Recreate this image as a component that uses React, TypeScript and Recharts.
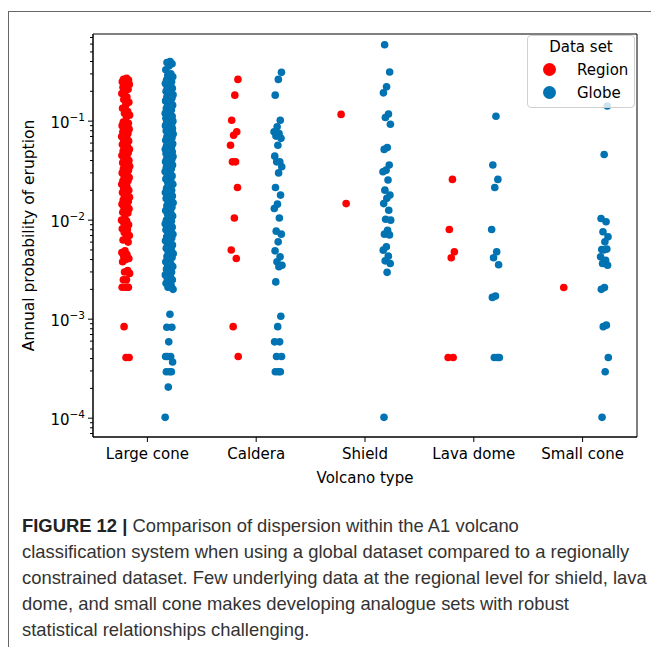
import React from "react";
import { ScatterChart, Scatter, XAxis, YAxis, ReferenceArea } from "recharts";

const categories = ["Large cone", "Caldera", "Shield", "Lava dome", "Small cone"];
const majorTicks = [1e-4, 1e-3, 1e-2, 1e-1];
const legendItems = ["Region", "Globe"];

const regionLargeCone = [
  0.27, 0.265, 0.26, 0.255, 0.25, 0.245, 0.24, 0.235, 0.23, 0.22, 0.21, 0.2, 0.19,
  0.175, 0.165, 0.155, 0.145, 0.135, 0.125, 0.12, 0.115, 0.11,
  0.098, 0.095, 0.092, 0.09, 0.088, 0.085, 0.083, 0.08, 0.078, 0.075, 0.072, 0.07, 0.068,
  0.065, 0.063, 0.06, 0.058, 0.056, 0.054, 0.052, 0.05, 0.05, 0.048, 0.046, 0.045, 0.043,
  0.042, 0.04, 0.04, 0.038, 0.037, 0.036, 0.035, 0.034, 0.033, 0.032, 0.031, 0.03, 0.029,
  0.028, 0.027, 0.026, 0.025, 0.025, 0.024, 0.023, 0.022, 0.021, 0.02, 0.02, 0.019, 0.018,
  0.0175, 0.017, 0.0165, 0.016, 0.0155, 0.015, 0.0145, 0.014, 0.0135, 0.013, 0.0125, 0.012,
  0.0118, 0.0105, 0.01, 0.0098, 0.0095, 0.009, 0.0085, 0.0082, 0.008, 0.0075, 0.007, 0.0066,
  0.0063, 0.006, 0.0049, 0.0047, 0.0045, 0.0043, 0.0041, 0.004, 0.0038, 0.0031, 0.003,
  0.0029, 0.0025, 0.0025, 0.0021, 0.0021, 0.0021, 0.0021, 0.00084, 0.00041, 0.00041,
];
const regionCaldera = [
  0.264, 0.183, 0.102, 0.078, 0.072, 0.057, 0.0388, 0.0388, 0.0214, 0.0105, 0.005, 0.0041,
  0.00084, 0.00042,
];
const regionShield = [0.117, 0.0147];
const regionLavaDome = [0.0258, 0.00805, 0.00479, 0.00417, 0.00041, 0.00041];
const regionSmallCone = [0.00209];

const globeLargeCone = [
  0.4, 0.39, 0.38, 0.36, 0.33,
  0.3, 0.29, 0.28, 0.27, 0.26, 0.25, 0.245, 0.24, 0.23, 0.22, 0.215, 0.21, 0.2, 0.195, 0.19,
  0.185, 0.18, 0.175, 0.17, 0.165, 0.16, 0.155, 0.15, 0.145, 0.14, 0.135, 0.13, 0.125, 0.12,
  0.118, 0.115, 0.112, 0.11, 0.107, 0.105, 0.102, 0.1,
  0.098, 0.096, 0.094, 0.092, 0.09, 0.088, 0.086, 0.084, 0.082, 0.08, 0.078, 0.076, 0.074,
  0.072, 0.07, 0.068, 0.066, 0.064, 0.062, 0.06, 0.059, 0.058, 0.056, 0.055, 0.054, 0.052,
  0.051, 0.05, 0.049, 0.048, 0.047, 0.046, 0.045, 0.044, 0.043, 0.042, 0.041, 0.04, 0.039,
  0.038, 0.037, 0.036, 0.035, 0.034, 0.033, 0.032, 0.031, 0.03, 0.029, 0.028, 0.027, 0.026,
  0.025, 0.024, 0.023, 0.022, 0.021, 0.02, 0.0195, 0.019, 0.0185, 0.018, 0.0175, 0.017,
  0.0165, 0.016, 0.0155, 0.015, 0.0145, 0.014, 0.0135, 0.013, 0.0125, 0.012, 0.0115, 0.011,
  0.0105, 0.01,
  0.0098, 0.0095, 0.0092, 0.009, 0.0087, 0.0085, 0.0082, 0.008, 0.0078, 0.0075, 0.0072, 0.007,
  0.0068, 0.0066, 0.0064, 0.0062, 0.006, 0.0058, 0.0056, 0.0054, 0.0052, 0.005, 0.0048,
  0.0046, 0.0045, 0.0043, 0.0042, 0.004, 0.0038, 0.0036, 0.0035, 0.0034, 0.0033, 0.0032,
  0.003, 0.0029, 0.0028, 0.0027, 0.0026, 0.0025, 0.0024, 0.0023, 0.0022, 0.0021, 0.002,
  0.00112, 0.00083, 0.00083, 0.00059, 0.00042, 0.00042, 0.00042, 0.00037, 0.000294,
  0.000294, 0.000294, 0.000206, 0.000102,
];
const globeCaldera = [
  0.311, 0.264, 0.183, 0.102, 0.0877, 0.078, 0.075, 0.0706, 0.067, 0.057, 0.0443, 0.0388,
  0.0388, 0.0346, 0.03, 0.0214, 0.0179, 0.0145, 0.0131, 0.0105, 0.00774, 0.00722, 0.00604,
  0.0049, 0.00426, 0.00379, 0.0035, 0.00338, 0.00238, 0.00107, 0.00084, 0.00059, 0.00059,
  0.00042, 0.00042, 0.000294, 0.000294, 0.000294,
];
const globeShield = [
  0.59, 0.313, 0.222, 0.193, 0.118, 0.109, 0.093, 0.0542, 0.0518, 0.036, 0.032, 0.0308,
  0.0254, 0.0201, 0.0179, 0.0166, 0.0147, 0.0126, 0.0102, 0.01, 0.00792, 0.00722, 0.0071,
  0.00538, 0.00498, 0.00433, 0.00388, 0.00365, 0.00297, 0.000102,
];
const globeLavaDome = [
  0.112, 0.036, 0.0258, 0.0214, 0.00805, 0.00479, 0.00417, 0.00354, 0.00171, 0.00166,
  0.00041, 0.00041, 0.00041,
];
const globeSmallCone = [
  0.142, 0.046, 0.0104, 0.00963, 0.00764, 0.00678, 0.00604, 0.00506, 0.0051, 0.005, 0.00426,
  0.00394, 0.00365, 0.0035, 0.00209, 0.002, 0.00087, 0.00084, 0.00041, 0.000294, 0.000102,
];

const regionGroups = [regionLargeCone, regionCaldera, regionShield, regionLavaDome, regionSmallCone];
const globeGroups = [globeLargeCone, globeCaldera, globeShield, globeLavaDome, globeSmallCone];

const RED = "#ff0000";
const BLUE = "#0173b2";
const Y_DOMAIN = [Math.pow(10, -4.19), Math.pow(10, -0.12)];

// small deterministic strip jitter
const jitter = (i: number, c: number) => ((((i + 1) * 0.6180339887 + c * 0.31) % 1) - 0.5) * 0.075;

const buildSeries = (groups: number[][], offset: number) =>
  groups.flatMap((vals, c) => vals.map((v, i) => ({ x: c + offset + jitter(i, c), y: v })));

const regionData = buildSeries(regionGroups, -0.2);
const globeData = buildSeries(globeGroups, 0.2);

const yTicks: number[] = [];
majorTicks.forEach((m) => {
  yTicks.push(m);
  for (let k = 2; k < 10; k++) if (m * k < Y_DOMAIN[1]) yTicks.push(m * k);
});
for (let k = 7; k < 10; k++) yTicks.push(k * 1e-5);

const isMajor = (v: number) => Math.abs(Math.log10(v) - Math.round(Math.log10(v))) < 1e-6;

const YTick = (props: any) => {
  const { x, y, payload } = props;
  const v = payload.value;
  const major = isMajor(v);
  return (
    <g>
      <line x1={x - (major ? 5 : 3)} x2={x} y1={y} y2={y} stroke="#000" strokeWidth={1} />
      {major && (
        <text x={x - 8} y={y + 7} textAnchor="end" fontSize={15} fill="#000">
          10
          <tspan dy={-7} fontSize={10.5}>
            {"\u2212" + Math.round(-Math.log10(v))}
          </tspan>
        </text>
      )}
    </g>
  );
};

const dot = (color: string) => (props: any) =>
  <circle cx={props.cx} cy={props.cy} r={3.8} fill={color} />;

const App = () => {
  return (
    <div style={{ position: "absolute", left: 0, top: 0, width: 651, height: 647, background: "#fff", overflow: "hidden" }}>
      <div
        style={{
          position: "absolute",
          left: 8,
          top: 11,
          width: 700,
          height: 700,
          borderTop: "1.5px solid #666",
          borderLeft: "1.5px solid #666",
        }}
      />
      <div style={{ position: "absolute", left: 0, top: 0 }}>
        <ScatterChart
          width={651}
          height={500}
          margin={{ top: 34, right: 14, bottom: 13, left: 5 }}
          style={{ fontFamily: "DejaVu Sans" }}
        >
          <XAxis
            type="number"
            dataKey="x"
            domain={[-0.5, 4.5]}
            ticks={[0, 1, 2, 3, 4]}
            tickFormatter={(v: number) => categories[v]}
            axisLine={{ stroke: "#000" }}
            tickLine={{ stroke: "#000" }}
            tickSize={5}
            tickMargin={6}
            height={50}
            tick={{ fill: "#000", fontSize: 15 }}
            interval={0}
            label={{ value: "Volcano type", position: "insideBottom", offset: 4, fill: "#000", fontSize: 15 }}
          />
          <YAxis
            type="number"
            dataKey="y"
            scale="log"
            domain={Y_DOMAIN}
            allowDataOverflow
            ticks={yTicks}
            interval={0}
            width={88}
            tickSize={0}
            tickMargin={0}
            tickLine={false}
            axisLine={{ stroke: "#000" }}
            tick={<YTick />}
            label={{
              value: "Annual probability of eruption",
              angle: -90,
              position: "insideLeft",
              offset: 23,
              fill: "#000",
              fontSize: 15.5,
              style: { textAnchor: "middle" },
            }}
          />
          <Scatter name="Region" data={regionData} fill={RED} shape={dot(RED)} isAnimationActive={false} />
          <Scatter name="Globe" data={globeData} fill={BLUE} shape={dot(BLUE)} isAnimationActive={false} />
          <ReferenceArea
            x1={-0.5}
            x2={4.5}
            y1={Y_DOMAIN[0]}
            y2={Y_DOMAIN[1]}
            fill="none"
            fillOpacity={0}
            stroke="#000"
            strokeWidth={1}
            ifOverflow="visible"
          />
        </ScatterChart>
      </div>
      <div
        style={{
          position: "absolute",
          left: 527,
          top: 35,
          width: 106,
          height: 71,
          border: "1px solid #d0d0d0",
          borderRadius: 4,
          background: "rgba(255,255,255,0.8)",
          fontFamily: "DejaVu Sans",
          fontSize: 15,
          color: "#000",
        }}
      >
        <div style={{ position: "absolute", left: 0, width: 106, top: 1, textAlign: "center", lineHeight: "20px" }}>
          Data set
        </div>
        {legendItems.map((name, i) => (
          <div key={name} style={{ position: "absolute", left: 0, top: 24 + i * 23, height: 20, width: 106 }}>
            <span
              style={{
                position: "absolute",
                left: 15,
                top: 3,
                width: 13,
                height: 13,
                borderRadius: "50%",
                background: i === 0 ? RED : BLUE,
              }}
            />
            <span style={{ position: "absolute", left: 49, top: 0, lineHeight: "20px" }}>{name}</span>
          </div>
        ))}
      </div>
      <div
        style={{
          position: "absolute",
          left: 22,
          top: 513,
          fontFamily: "Liberation Sans, Arial, sans-serif",
          fontSize: 18.4,
          lineHeight: "26px",
          color: "#333",
          whiteSpace: "nowrap",
        }}
      >
        <b style={{ color: "#222" }}>FIGURE 12 |</b> Comparison of dispersion within the A1 volcano
        <br />
        classification system when using a global dataset compared to a regionally
        <br />
        constrained dataset. Few underlying data at the regional level for shield, lava
        <br />
        dome, and small cone makes developing analogue sets with robust
        <br />
        statistical relationships challenging.
      </div>
    </div>
  );
};

export default App;
